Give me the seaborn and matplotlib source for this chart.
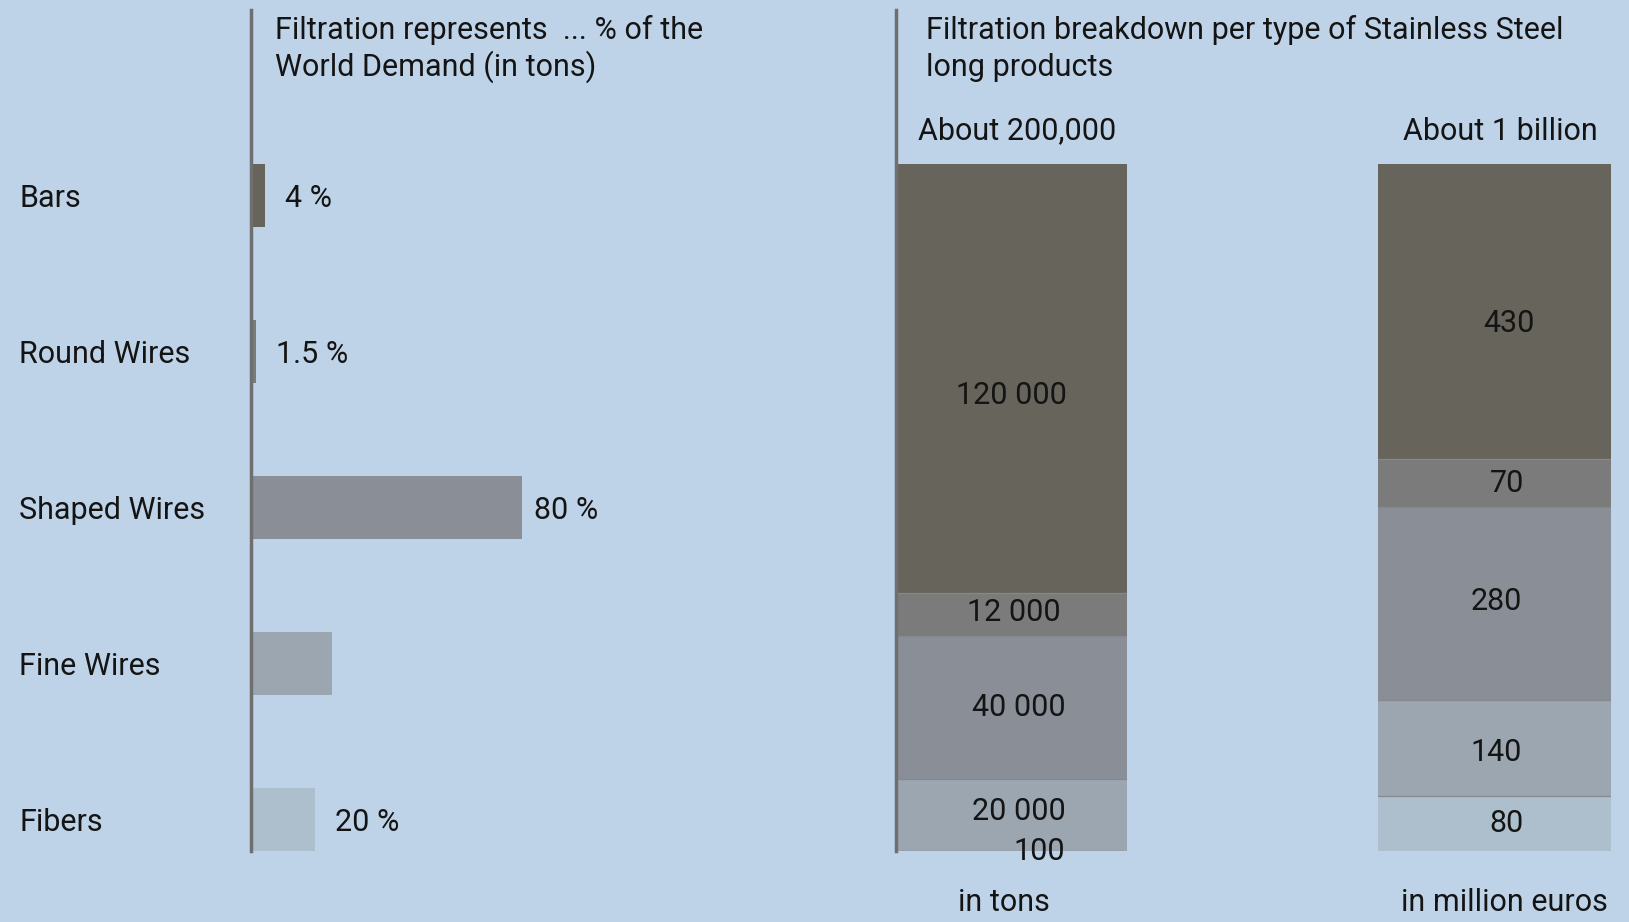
import matplotlib
matplotlib.use("Agg")
import matplotlib.pyplot as plt
import seaborn as sns
import pandas as pd
import numpy as np

# ---------------- data ----------------
categories = ["Bars", "Round Wires", "Shaped Wires", "Fine Wires", "Fibers"]
share_pct = [4, 1.5, 80, 24, 19]
share_labels = ["4 %", "1.5 %", "80 %", "", "20 %"]

tons = [120000, 12000, 40000, 20000, 100]
tons_labels = ["120 000", "12 000", "40 000", "20 000", "100"]
euros = [430, 70, 280, 140, 80]
euros_labels = ["430", "70", "280", "140", "80"]

colors = ["#67645b", "#7b7b7b", "#8a8f97", "#9ba6b1", "#adbfcc"]
BG = "#bed3e8"
LINE = "#6f6f6f"
TXT = "#141414"
FONT = ["Roboto", "DejaVu Sans"]

sns.set_theme(style="white")
plt.rcParams["font.family"] = FONT
plt.rcParams["text.color"] = TXT

W, H = 1629, 922
fig = plt.figure(figsize=(W / 100, H / 100), dpi=100, facecolor=BG)


def rect(x0, y0, x1, y1):
    return [x0 / W, 1 - y1 / H, (x1 - x0) / W, (y1 - y0) / H]


def fx(px):
    return px / W


def fy(py):
    return 1 - py / H


FS = 22

# ---------------- left panel ----------------
axL = fig.add_axes(rect(251, 10, 251 + 339, 851))
axL.set_facecolor(BG)
dfL = pd.DataFrame({"cat": categories, "val": share_pct})
sns.barplot(data=dfL, x="val", y="cat", hue="cat", palette=colors, order=categories,
            width=63 / 156, legend=False, ax=axL, saturation=1, linewidth=0)
axL.set_xlim(0, 100)
axL.set_ylim(4 + 31.5 / 156, -186 / 156)
for s in ["top", "right", "bottom"]:
    axL.spines[s].set_visible(False)
axL.spines["left"].set_color(LINE)
axL.spines["left"].set_linewidth(2.5)
axL.set_xticks([])
axL.set_yticks([])
axL.set_xlabel("")
axL.set_ylabel("")
for i, (v, lab) in enumerate(zip(share_pct, share_labels)):
    if lab:
        axL.annotate(lab, xy=(v, i), xytext=(12 if v > 50 else 20, -3), textcoords="offset pixels",
                     ha="left", va="center", fontsize=FS, color=TXT)
# category labels
for i, c in enumerate(categories):
    axL.annotate(c, xy=(0, i), xycoords=("axes fraction", "data"), xytext=(-232, -3),
                 textcoords="offset pixels", ha="left", va="center", fontsize=FS, color=TXT,
                 annotation_clip=False)

fig.text(fx(275), fy(30), "Filtration represents  ... % of the", fontsize=FS,
         ha="left", va="center")
fig.text(fx(275), fy(67), "World Demand (in tons)", fontsize=FS, ha="left", va="center")

# ---------------- right panel ----------------
fig.text(fx(926), fy(30), "Filtration breakdown per type of Stainless Steel", fontsize=FS,
         ha="left", va="center")
fig.text(fx(926), fy(67), "long products", fontsize=FS, ha="left", va="center")


def stacked(ax, vals, total_px):
    vals = np.array(vals, dtype=float)
    order = list(range(len(vals)))[::-1]  # bottom to top
    cum = np.cumsum(vals[order])
    total = cum[-1]
    for k in range(len(order) - 1, -1, -1):
        idx = order[k]
        d = pd.DataFrame({"x": ["a"], "y": [cum[k]]})
        sns.barplot(data=d, x="x", y="y", color=colors[idx], width=1.0, saturation=1,
                    linewidth=0, ax=ax)
    # thin separators between adjacent light segments
    for k in range(len(order) - 1):
        ax.axhline(cum[k], color="#848990", lw=0.9, zorder=5)
    ax.set_xlim(-0.5, 0.5)
    ax.set_ylim(0, total * 841 / total_px)
    ax.set_xticks([])
    ax.set_yticks([])
    ax.set_xlabel("")
    ax.set_ylabel("")
    ax.set_facecolor("none")
    bottoms = np.concatenate([[0], cum[:-1]])
    return order, bottoms


axT = fig.add_axes(rect(896, 10, 1127, 851))
order, bottoms = stacked(axT, tons, 687)
for s in ["top", "right", "bottom"]:
    axT.spines[s].set_visible(False)
axT.spines["left"].set_color(LINE)
axT.spines["left"].set_linewidth(2.5)
axT.spines["left"].set_zorder(6)
t_dx = [0, 2, 7, 7, 28]
t_dy = [-17, 2, 0, 3, 0]
for k, idx in enumerate(order):
    mid = bottoms[k] + tons[idx] / 2
    if tons[idx] < 1000:
        axT.annotate(tons_labels[idx], xy=(0, 0), xytext=(t_dx[idx], 0), textcoords="offset pixels",
                     ha="center", va="center", fontsize=FS, color=TXT, annotation_clip=False)
    else:
        axT.annotate(tons_labels[idx], xy=(0, mid), xytext=(t_dx[idx], t_dy[idx]),
                     textcoords="offset pixels", ha="center", va="center", fontsize=FS, color=TXT)

axE = fig.add_axes(rect(1378, 10, 1611, 851))
order, bottoms = stacked(axE, euros, 687)
for s in ["top", "right", "bottom", "left"]:
    axE.spines[s].set_visible(False)
dxs = [14, 13, 2, 2, 12]
dys = [-12, 0, 2, -5, 0]
for k, idx in enumerate(order):
    mid = bottoms[k] + euros[idx] / 2
    axE.annotate(euros_labels[idx], xy=(0, mid), xytext=(dxs[idx], dys[idx]),
                 textcoords="offset pixels", ha="center", va="center", fontsize=FS, color=TXT)

fig.text(fx(1017), fy(131), "About 200,000", fontsize=FS, ha="center", va="center")
fig.text(fx(1500), fy(131), "About 1 billion", fontsize=FS, ha="center", va="center")
fig.text(fx(1004), fy(902), "in tons", fontsize=FS, ha="center", va="center")
fig.text(fx(1504), fy(902), "in million euros", fontsize=FS, ha="center", va="center")

fig.savefig("out.png", dpi=100, facecolor=BG)
